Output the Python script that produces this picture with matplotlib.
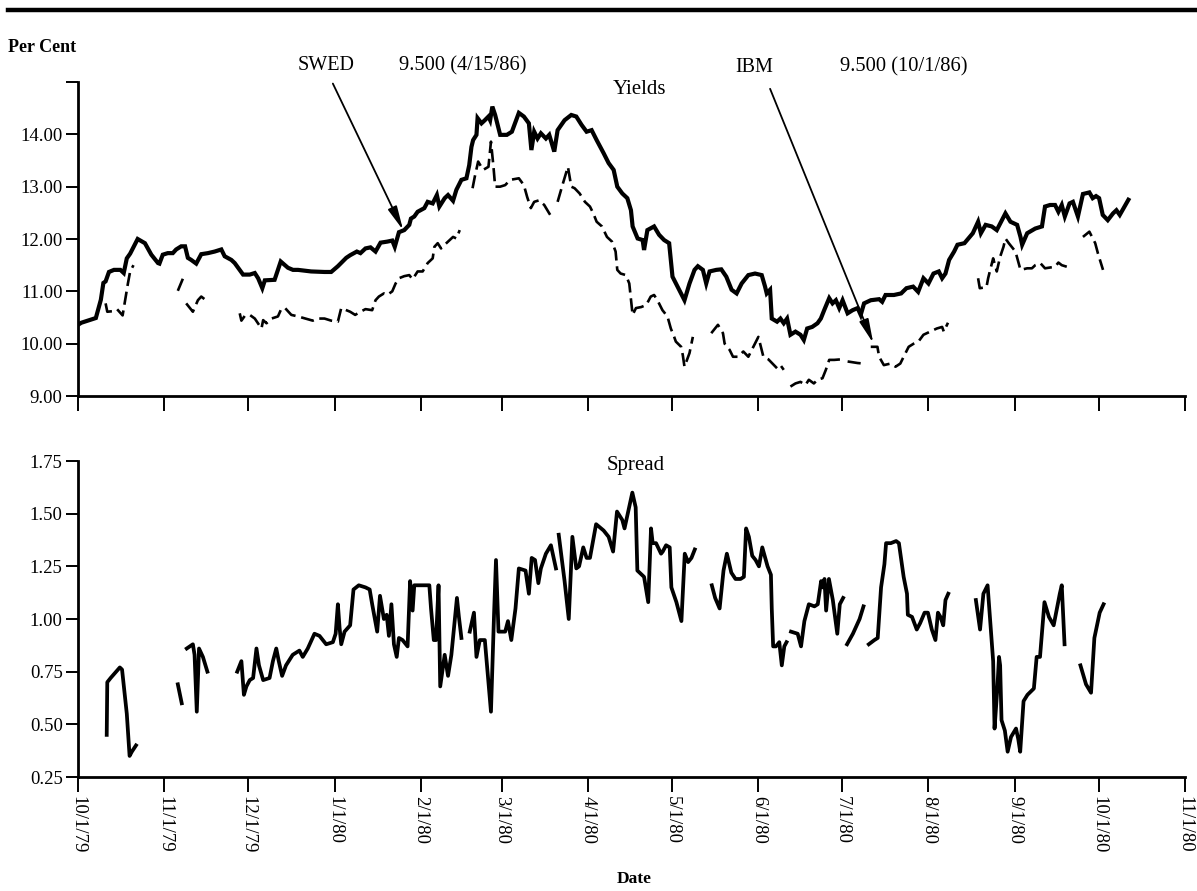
import numpy as np
import matplotlib
matplotlib.use('Agg')
import matplotlib.pyplot as plt
import matplotlib.dates as mdates
from matplotlib.lines import Line2D
import datetime as dt

plt.rcParams['font.family'] = ['Liberation Serif', 'DejaVu Serif']

NaN = np.nan

# ---- data: x = days since 10/1/79 ----
swed_days = [0, 1.2, 6.4, 8.2, 9.1, 9.9, 11.1, 12.9, 15.2, 16.4, 17.5, 18.7, 21.4, 24, 26.3, 28.7, 29.2,
             30.4, 32.2, 34, 35.2, 37, 38.4, 39.4, 40.6, 42.4, 44.2, 46.6, 49, 51.4, 52.6, 55, 56.2, 59.2,
             61.6, 63.4, 64.6, 66.1, 67, 70.5, 72.7, 75.3, 77.1, 78.9, 83.6, 88.4, 90.8, 93.2, 96.2,
             97.6, 100, 101.3, 103.1, 104.9, 106.7, 108.5, 110.9, 112.7, 113.6, 115.1, 117, 118.8, 119.4,
             120.6, 121.8, 124.2, 125.4, 127.2, 128.7, 129.6, 131.5, 132.7, 134.5, 135.7, 137.5, 139.3,
             140.3, 141.1, 141.7, 142.9, 143.3, 144.7, 145.9, 147.2, 147.8, 148.6, 149.6, 151.4, 153.8,
             155.6, 158.1, 159.9, 161.7, 162.6, 163.6, 164.8, 166, 167.8, 169, 170.8, 172, 174.5, 176.9,
             178.7, 180.6, 182.4, 184.2, 186, 188.5, 190.3, 192.1, 193.4, 195.2, 197, 198.3, 198.9, 200.7,
             202.5, 203, 204.2, 206.6, 208.4, 210.2, 212, 213.2, 215, 217.5, 219.3, 221.1, 222.3, 224.1,
             225.3, 226.5, 228.9, 230.7, 232.5, 234.4, 236.2, 238, 240.4, 242.8, 245.2, 246.4, 247, 248.2,
             248.8, 250.7, 251.9, 253.1, 254.3, 255.5, 257.3, 259.1, 260.3, 261.5, 263.3, 265.2, 266.4,
             267.6, 269.4, 270.6, 271.8, 273, 274.2, 276, 277.8, 279.6, 280.7, 281.9, 284.3, 287.3, 288.4,
             289.6, 292.6, 295.2, 297.1, 299.5, 301.3, 303.2, 305, 306.8, 308.7, 309.9, 311.1, 312.4,
             314.2, 315.4, 317.9, 320.9, 322.8, 323.8, 325.5, 327.7, 329.5, 332.6, 334.4, 336.8, 338,
             338.6, 340.4, 343.3, 345.7, 346.8, 348.6, 350.4, 351.6, 352.8, 353.9, 355.6, 356.8, 358.6,
             360.4, 362.7, 363.9, 365.1, 366.2, 367.5, 369.3, 371.2, 372.4, 373.6, 376.7]
swed_vals = [10.36, 10.40, 10.49, 10.84, 11.16, 11.19, 11.37, 11.41, 11.41, 11.35, 11.63, 11.72, 12.00,
             11.92, 11.70, 11.54, 11.53, 11.70, 11.73, 11.73, 11.80, 11.86, 11.86, 11.64, 11.60, 11.53,
             11.71, 11.73, 11.76, 11.80, 11.67, 11.60, 11.54, 11.32, 11.32, 11.35, 11.25, 11.06, 11.21,
             11.22, 11.57, 11.45, 11.41, 11.41, 11.38, 11.37, 11.37, 11.48, 11.64,
             11.69, 11.76, 11.73, 11.82, 11.84, 11.76, 11.93, 11.95, 11.97, 11.85, 12.13, 12.17, 12.27,
             12.39, 12.43, 12.52, 12.59, 12.71, 12.68, 12.84, 12.62, 12.78, 12.84, 12.73, 12.94, 13.13,
             13.16, 13.41, 13.76, 13.89, 13.99, 14.31, 14.21, 14.27, 14.34, 14.27, 14.53, 14.37, 13.99,
             13.99, 14.05, 14.41, 14.34, 14.21, 13.70, 14.05, 13.92, 14.02, 13.92, 13.99, 13.67, 14.08,
             14.27, 14.37, 14.34, 14.18, 14.05, 14.08, 13.89, 13.64, 13.45, 13.32, 13.00, 12.87, 12.78,
             12.55, 12.24, 12.01, 11.98, 11.79, 12.17, 12.24, 12.08, 11.98, 11.92, 11.28, 11.09, 10.83,
             11.15, 11.41, 11.48, 11.41, 11.15, 11.38, 11.41, 11.42, 11.28, 11.03, 10.96, 11.15, 11.31,
             11.34, 11.31, 11.09, 10.96, 11.03, 10.48, 10.42, 10.48, 10.39, 10.48, 10.17, 10.23, 10.17,
             10.07, 10.29, 10.32, 10.39, 10.48, 10.64, 10.87, 10.77, 10.83, 10.68, 10.83, 10.58, 10.64,
             10.68, 10.55, 10.77, 10.83, 10.85, 10.80, 10.93, 10.93, 10.96, 11.06, 11.09, 10.99, 11.25,
             11.15, 11.34, 11.38, 11.25, 11.34, 11.60, 11.76, 11.89, 11.92, 12.11, 12.33, 12.11, 12.27,
             12.24, 12.17, 12.49, 12.33, 12.27, 12.04, 11.89, 12.11, 12.20, 12.24, 12.62, 12.65, 12.65,
             12.52, 12.65, 12.43, 12.68, 12.71, 12.43, 12.86, 12.89, 12.78, 12.82, 12.78, 12.46, 12.36,
             12.49, 12.55, 12.46, 12.75]

ibm_days = [9.9, 10.5, 12.3, 14, 16, 17.9, 18.7, 19.9, NaN,
            35.8, 37.6, NaN,
            38.8, 41.2, 43, 44.2, 45.4, NaN,
            58, 58.6, 59.8, 61.6, 63.4, 65.8, 66.4, 67.6, 69.4, 71.7, 72.7, 74.1, 76.5, 78.9, 84.2, 86,
            88.4, 90.8, 93.2, 94.4, 97.6, 99.4, 101.3, 103.1, 105.5, 106.7, 107.9, 109.7, 110.9, 112.7,
            113.9, 115.1, 117, 118.8, 120, 121.8, 123.6, 125.4, 127.2, 127.8, 129, 130.2, 131.5, 132.7,
            134.5, 135.7, 136.9, NaN,
            141.5, 142.3, 143.5, 145.3, 147.2, 148.1, 149, 149.6, 151.4, 153.2, 155, 158.1, 159.9, 161.1,
            162.4, 163.6, 165.4, 167.2, 169, 170.2, NaN,
            172, 173.9, 175.7, 176.9, 178.1, 179.9, 181.8, 183.6, 184.8, 186, 187.9, 189.7, 191.5, 192.8,
            193.4, 194.6, 196.5, 197.7, 198.9, 200.1, 202, 203.8, 205.4, 206.6, 207.8, 209.6, 211.4,
            212.6, 213.8, 214.4, 216.3, 216.9, 217.5, 219.3, 220.5, NaN,
            227.1, 229.5, 231.3, 231.9, 233.7, 234.9, 236.7, 238.6, 240.4, 244, 245.8, 247.6, 250.7,
            251.9, 253.1, NaN,
            255.5, 257.3, 259.1, 260.9, 262.1, 263.9, 265.2, 267, 268.2, 269.4, 271.2, 273.6, NaN,
            276, 279.6, 281.7, NaN,
            284.3, 286.7, 287.3, 289, 291.4, 293.2, 294.9, 296.1, 297.9, 299.7, 301.4, 303.2, 305.6, 308,
            309.9, 310.5, 312, NaN,
            322.8, 323.4, 325.8, 326.4, 327, 328.2, 329.5, 330.7, 331.9, 332.6, 333.8, 336.2, 338, 340.4,
            342.1, 343.3, 345.1, 346.8, 350.4, 351.6, 352.8, 354.6, NaN,
            360.4, 362.7, 364.8, 365.8, 367.6]
ibm_vals = [10.77, 10.61, 10.62, 10.66, 10.54, 11.15, 11.38, 11.50, NaN,
            11.01, 11.24, NaN,
            10.77, 10.61, 10.83, 10.90, 10.85, NaN,
            10.58, 10.44, 10.53, 10.55, 10.48, 10.29, 10.45, 10.39, 10.48, 10.52, 10.64, 10.69, 10.55,
            10.52, 10.44, 10.48, 10.48, 10.44, 10.42, 10.68, 10.61, 10.55, 10.61, 10.66, 10.64, 10.83,
            10.90, 10.96, 10.93, 11.00, 11.15, 11.25, 11.29, 11.31, 11.23, 11.38, 11.38, 11.54, 11.63,
            11.85, 11.92, 11.82, 11.89, 11.95, 12.04, 12.01, 12.17, NaN,
            12.97, 13.19, 13.48, 13.32, 13.38, 13.86, 13.38, 13.00, 13.00, 13.03, 13.13, 13.16, 13.03,
            12.80, 12.59, 12.71, 12.74, 12.65, 12.49, 12.39, NaN,
            12.71, 13.06, 13.38, 13.00, 12.97, 12.87, 12.71, 12.62, 12.49, 12.33, 12.24, 12.04, 11.95,
            11.76, 11.41, 11.34, 11.31, 11.15, 10.55, 10.68, 10.70, 10.74, 10.90, 10.93, 10.83, 10.64,
            10.52, 10.29, 10.13, 10.04, 9.94, 9.78, 9.56, 9.82, 10.13, NaN,
            10.20, 10.36, 10.20, 10.00, 9.88, 9.75, 9.75, 9.85, 9.75, 10.13, 9.75, 9.70, 9.53, 9.59,
            9.50, NaN,
            9.18, 9.24, 9.27, 9.21, 9.31, 9.24, 9.31, 9.34, 9.50, 9.69, 9.69, 9.70, NaN,
            9.66, 9.63, 9.62, NaN,
            9.94, 9.94, 9.75, 9.59, 9.62, 9.56, 9.62, 9.75, 9.94, 10.00, 10.04, 10.17, 10.23, 10.29,
            10.32, 10.23, 10.40, NaN,
            11.25, 11.06, 11.08, 11.25, 11.38, 11.63, 11.38, 11.66, 11.85, 12.01, 11.92, 11.76, 11.41,
            11.44, 11.44, 11.50, 11.54, 11.44, 11.47, 11.55, 11.50, 11.47, NaN,
            12.04, 12.14, 11.92, 11.72, 11.41]

spread_days = [10.3, 10.5, 11.7, 15, 15.8, 17.5, 18.5, 19.3, 20.8, NaN,
               35.8, 37.2, NaN,
               39, 41.2, 41.8, 42.6, 43.4, 44.8, 46.4, NaN,
               57.1, 58.6, 59.5, 60.4, 61.6, 62.8, 64, 64.9, 66.4, 68.7, 69.9, 71.1, 72, 73.2, 74.6, 77,
               79.4, 80.6, 82.4, 84.8, 86.6, 87.8, 89, 91.4, 92.4, 93.2, 93.8, 94.4, 95.6, 97.6, 98.8,
               100.7, 103.1, 104.6, 105.5, 107.3, 108.3, 109.7, 110.7, 111.5, 112.4, 113.3, 114.3, 115.1,
               116.4, 118.2, 119.1, 120, 120.6, 122.4, 126, 126.6, 127.6, 128.4, 129.3, 129.9, 131.5,
               132.7, 133.9, 135.1, 135.9, 136.6, 137.5, NaN,
               140.5, 142, 142.9, 144.1, 145.9, 148.1, 149.2, 149.9, 150.8, 153.2, 154.2, 155.4, 156.9,
               158.1, 160.5, 161.7, 162.7, 163.9, 165.1, 166, 167.8, 169.6, 171.4, NaN,
               172.4, 174.5, 176, 177.3, 178.7, 179.7, 181.2, 182.4, 183.6, 185.8, 188.5, 190.3, 191.9,
               193.3, 195.2, 196, 198.8, 200, 200.6, 203, 204.5, 205.5, 206.1, 207.3, 209.1, 209.7, 210.9,
               212.2, 212.8, 214.6, 216.4, 217.6, 218.8, 220, 221.2, NaN,
               227.3, 228.5, 230.1, 231.5, 232.7, 234.3, 235.8, 237.6, 238.8, 239.6, 240.6, 241.8, 243,
               244.2, 245.4, 247.3, 248.5, 248.8, 249.3, 250.3, 251.5, 252.4, 253.3, 254.1, NaN,
               255.7, 258.1, 259.3, 260.5, 262.1, 264.1, 265.3, 266.5, 267.1, 267.7, 268.3, 269.3, 270.7,
               272.3, 273.2, 274.4, NaN,
               275.8, 277.9, 280.3, 281.7, NaN,
               283.6, 285.6, 286.8, 288, 289.2, 289.8, 291.5, 293.4, 294.4, 296.1, 297.3, 297.6, 299.1,
               300.8, 302, 303.6, 304.8, 306.2, 307.5, 308.4, 309.3, 310.3, 311.1, 312.1, NaN,
               322, 323.5, 324.7, 326.2, 328.2, 328.7, 329.7, 330.3, 330.7, 331.2, 332.4, 333.4, 334.6,
               336.4, 337.2, 337.9, 339.1, 340.5, 342.8, 343.8, 345, 346.6, 348.2, 349.9, 352.1, 352.8,
               353.8, NaN,
               359.5, 361.5, 363.3, 364.5, 366.4, 367.8]
spread_vals = [0.45, 0.70, 0.72, 0.77, 0.76, 0.55, 0.35, 0.37, 0.40, NaN,
               0.69, 0.60, NaN,
               0.86, 0.88, 0.83, 0.56, 0.86, 0.82, 0.75, NaN,
               0.75, 0.80, 0.64, 0.68, 0.71, 0.72, 0.86, 0.78, 0.71, 0.72, 0.80, 0.86, 0.80, 0.73, 0.78,
               0.83, 0.85, 0.82, 0.86, 0.93, 0.92, 0.90, 0.88, 0.89, 0.93, 1.07, 0.96, 0.88, 0.94, 0.97,
               1.14, 1.16, 1.15, 1.14, 1.07, 0.94, 1.11, 1.00, 1.02, 0.92, 1.07, 0.88, 0.82, 0.91, 0.90,
               0.87, 1.18, 1.04, 1.16, 1.16, 1.16, 1.05, 0.90, 0.90, 1.16, 0.68, 0.83, 0.73, 0.83, 0.99,
               1.10, 1.01, 0.91, NaN,
               0.94, 1.03, 0.82, 0.90, 0.90, 0.56, 1.02, 1.28, 0.94, 0.94, 0.99, 0.90, 1.05, 1.24, 1.23,
               1.12, 1.29, 1.28, 1.17, 1.24, 1.31, 1.35, 1.24, NaN,
               1.40, 1.18, 1.00, 1.39, 1.24, 1.25, 1.34, 1.29, 1.29, 1.45, 1.42, 1.39, 1.32, 1.51, 1.47,
               1.43, 1.60, 1.53, 1.23, 1.20, 1.08, 1.43, 1.36, 1.36, 1.31, 1.32, 1.35, 1.34, 1.15, 1.08,
               0.99, 1.31, 1.27, 1.29, 1.33, NaN,
               1.16, 1.10, 1.05, 1.23, 1.31, 1.22, 1.19, 1.19, 1.20, 1.43, 1.39, 1.30, 1.28, 1.25, 1.34,
               1.25, 1.21, 1.05, 0.87, 0.87, 0.89, 0.78, 0.87, 0.89, NaN,
               0.94, 0.93, 0.87, 0.99, 1.07, 1.06, 1.07, 1.18, 1.15, 1.19, 1.04, 1.19, 1.09, 0.93, 1.07,
               1.10, NaN,
               0.88, 0.93, 1.00, 1.06, NaN,
               0.88, 0.90, 0.91, 1.15, 1.26, 1.36, 1.36, 1.37, 1.36, 1.20, 1.12, 1.02, 1.01, 0.95, 0.98,
               1.03, 1.03, 0.95, 0.90, 1.03, 1.01, 0.97, 1.09, 1.12, NaN,
               1.09, 0.95, 1.12, 1.16, 0.80, 0.48, 0.67, 0.82, 0.78, 0.52, 0.47, 0.37, 0.44, 0.48, 0.43,
               0.37, 0.61, 0.64, 0.67, 0.82, 0.82, 1.08, 1.01, 0.97, 1.12, 1.16, 0.88, NaN,
               0.78, 0.69, 0.65, 0.91, 1.03, 1.07]

tick_dates = [(1979, 10, 1), (1979, 11, 1), (1979, 12, 1), (1980, 1, 1), (1980, 2, 1), (1980, 3, 1),
              (1980, 4, 1), (1980, 5, 1), (1980, 6, 1), (1980, 7, 1), (1980, 8, 1), (1980, 9, 1),
              (1980, 10, 1), (1980, 11, 1)]
tick_labels = ['10/1/79', '11/1/79', '12/1/79', '1/1/80', '2/1/80', '3/1/80', '4/1/80', '5/1/80',
               '6/1/80', '7/1/80', '8/1/80', '9/1/80', '10/1/80', '11/1/80']
yield_ticks = [9, 10, 11, 12, 13, 14, 15]
spread_ticks = [0.25, 0.50, 0.75, 1.00, 1.25, 1.50, 1.75]

# ---- helpers ----
base = mdates.date2num(dt.datetime(1979, 10, 1))


def to_x(days):
    return base + np.asarray(days, dtype=float)


tick_x = [mdates.date2num(dt.datetime(*d)) for d in tick_dates]

W, H = 1197, 891
fig = plt.figure(figsize=(W / 100, H / 100), dpi=100)


def fx(px):
    return px / W


def fy(py):
    return 1 - py / H


ax1 = fig.add_axes([fx(78), fy(396), fx(1185) - fx(78), fy(82) - fy(396)])
ax2 = fig.add_axes([fx(78), fy(777), fx(1185) - fx(78), fy(461) - fy(777)])

ax1.plot(to_x(swed_days), swed_vals, color='black', lw=3.0, solid_joinstyle='miter', zorder=3)
ax1.plot(to_x(ibm_days), ibm_vals, color='black', lw=1.9, ls=(0, (5, 2.2)), zorder=3)
ax2.plot(to_x(spread_days), spread_vals, color='black', lw=2.7, zorder=3)

for ax, yt, ylim in [(ax1, yield_ticks, (9, 15)), (ax2, spread_ticks, (0.25, 1.75))]:
    ax.set_xlim(tick_x[0], tick_x[-1])
    ax.set_ylim(*ylim)
    ax.set_xticks(tick_x)
    ax.set_yticks(yt)
    for s in ['top', 'right']:
        ax.spines[s].set_visible(False)
    for s in ['left', 'bottom']:
        ax.spines[s].set_linewidth(2.0)
    ax.tick_params(axis='y', direction='out', length=9, width=1.4, labelsize=13.5, pad=2)
    ax.tick_params(axis='x', direction='out', length=11, width=1.4, labelsize=13.5, pad=3)
    ax.patch.set_alpha(0)

ax1.set_yticklabels(['%.2f' % v if v < 15 else '' for v in yield_ticks])
ax1.set_xticklabels([])
ax2.set_yticklabels(['%.2f' % v for v in spread_ticks])
ax2.set_xticklabels(tick_labels, rotation=270, va='top', ha='center')

# annotations (arrows)
ax1.annotate('', xy=(to_x(116.6), 12.17), xytext=(to_x(91.4), 14.97),
             arrowprops=dict(arrowstyle='-|>,head_length=0.9,head_width=0.18', lw=1.3,
                             color='black', shrinkA=0, shrinkB=0, mutation_scale=16),
             annotation_clip=False)
ax1.annotate('', xy=(to_x(285.2), 10.01), xytext=(to_x(248.2), 14.87),
             arrowprops=dict(arrowstyle='-|>,head_length=0.9,head_width=0.18', lw=1.3,
                             color='black', shrinkA=0, shrinkB=0, mutation_scale=16),
             annotation_clip=False)

fig.text(fx(298), fy(66), 'SWED', fontsize=14.5, ha='left', va='center')
fig.text(fx(399), fy(66), '9.500 (4/15/86)', fontsize=14.8, ha='left', va='center')
fig.text(fx(735), fy(67), 'IBM', fontsize=14.5, ha='left', va='center')
fig.text(fx(840), fy(67), '9.500 (10/1/86)', fontsize=14.8, ha='left', va='center')
fig.text(fx(639), fy(90), 'Yields', fontsize=15, ha='center', va='center')
fig.text(fx(636), fy(466), 'Spread', fontsize=15, ha='center', va='center')
fig.text(fx(8), fy(47), 'Per Cent', fontsize=13, fontweight='bold', ha='left', va='center')
fig.text(fx(634), fy(879), 'Date', fontsize=12.5, fontweight='bold', ha='center', va='center')

# top rule
fig.add_artist(Line2D([fx(8), 1.0], [fy(10), fy(10)], color='black', lw=3.2))

fig.savefig('out.png', dpi=100)
